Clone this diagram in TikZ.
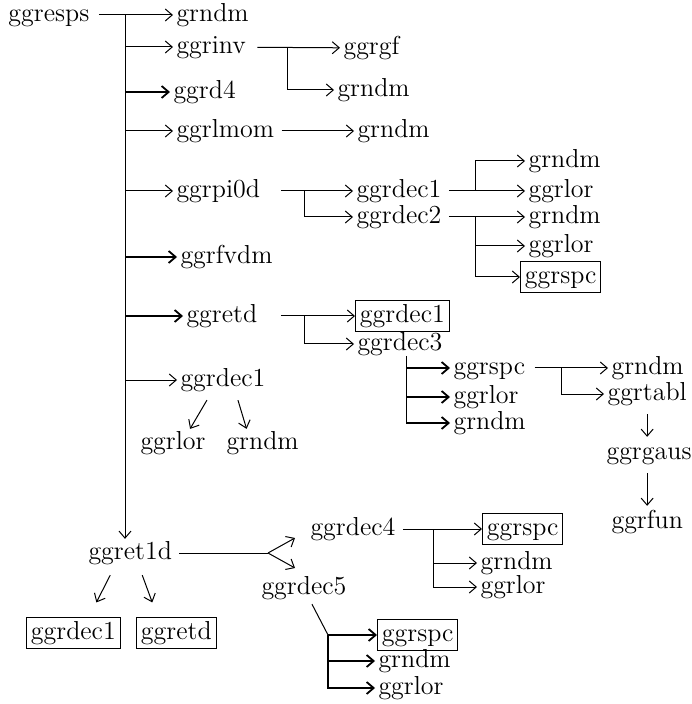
\documentclass[tikz,border=0pt]{standalone}
\usepackage{tikz}
\usetikzlibrary{arrows.meta}

\begin{document}
\begin{tikzpicture}[x=0.5pt,y=-0.5pt,>={Straight Barb[length=3.5pt,width=6pt]},line width=0.5pt,
		lbl/.style={anchor=west,inner sep=1.5pt,text height=1.5ex,text depth=.4ex},
		boxed/.style={lbl,draw,inner sep=2.2pt,line width=0.5pt},
		heavy/.style={line width=0.9pt}]
		\fontsize{13}{15}\selectfont
		\useasboundingbox (0,0) rectangle (691,704);
		\node [lbl] (resps) at (5,15) {ggresps};
		\node [lbl] (rndm1) at (173,15) {grndm};
		\node [lbl] (inv) at (173,47) {ggrinv};
		\node [lbl] (rgf) at (340,48) {ggrgf};
		\node [lbl] (rndm2) at (334,90) {grndm};
		\node [lbl] (rd4) at (170,92) {ggrd4};
		\node [lbl] (lmom) at (173,131) {ggrlmom};
		\node [lbl] (rndm3) at (354,131) {grndm};
		\node [lbl] (pi0d) at (173,191) {ggrpi0d};
		\node [lbl] (dec1a) at (353,191) {ggrdec1};
		\node [lbl] (dec2a) at (353,217) {ggrdec2};
		\node [lbl] (rndm4) at (525,161) {grndm};
		\node [lbl] (rlor1) at (525,191) {ggrlor};
		\node [lbl] (rndm5) at (525,217) {grndm};
		\node [lbl] (rlor2) at (525,246) {ggrlor};
		\node [boxed] (rspc1) at (520,277) {ggrspc};
		\node [lbl] (fvdm) at (177,257) {ggrfvdm};
		\node [lbl] (retd) at (183,316) {ggretd};
		\node [boxed] (dec1box) at (355,316) {ggrdec1};
		\node [lbl] (dec3) at (354,344) {ggrdec3};
		\node [lbl] (rspc2) at (450,368) {ggrspc};
		\node [lbl] (rlor3) at (450,397) {ggrlor};
		\node [lbl] (rndm6) at (450,423) {grndm};
		\node [lbl] (rndm7) at (608,368) {grndm};
		\node [lbl] (rtabl) at (604,394) {ggrtabl};
		\node [lbl] (rgaus) at (603,453) {ggrgaus};
		\node [lbl] (rfun) at (608,522) {ggrfun};
		\node [lbl] (dec1b) at (177,380) {ggrdec1};
		\node [lbl] (rlor4) at (137,443) {ggrlor};
		\node [lbl] (rndm8) at (223,443) {grndm};
		\node [lbl] (ret1d) at (85,553) {ggret1d};
		\node [boxed] (dec1c) at (26,633) {ggrdec1};
		\node [boxed] (retd2) at (136,633) {ggretd};
		\node [lbl] (dec4) at (307,529) {ggrdec4};
		\node [boxed] (rspc3) at (482,529) {ggrspc};
		\node [lbl] (rndm9) at (477,563) {grndm};
		\node [lbl] (rlor5) at (477,587) {ggrlor};
		\node [lbl] (dec5) at (258,588) {ggrdec5};
		\node [boxed] (rspc4) at (377,635) {ggrspc};
		\node [lbl] (rndm10) at (375,661) {grndm};
		\node [lbl] (rlor6) at (375,688) {ggrlor};
		\coordinate (t0) at (125,15);
		\coordinate (t1) at (125,47);
		\coordinate (t2) at (125,92);
		\coordinate (t3) at (125,131);
		\coordinate (t4) at (125,191);
		\coordinate (t5) at (125,257);
		\coordinate (t6) at (125,316);
		\coordinate (t7) at (125,380);
		\coordinate (j1) at (287,48);
		\coordinate (j2) at (304,191);
		\coordinate (j3) at (475,191);
		\coordinate (j4) at (475,217);
		\coordinate (j5) at (304,316);
		\coordinate (k0) at (406,356);
		\coordinate (j7) at (561,368);
		\coordinate (sp) at (268,553);
		\coordinate (a4) at (295,538);
		\coordinate (a5) at (295,568);
		\coordinate (j8) at (433,529);
		\coordinate (k1) at (328,635);
		\draw [shorten <=3pt] (resps) -- (t0);
		\draw [->] (t0) -- (rndm1);
		\draw [->] (t0) -- (t0 |- ret1d.north);
		\draw [->] (t1) -- (inv);
		\draw [->,heavy] (t2) -- (rd4);
		\draw [->] (t3) -- (lmom);
		\draw [->] (t4) -- (pi0d);
		\draw [->,heavy] (t5) -- (fvdm);
		\draw [->,heavy] (t6) -- (retd);
		\draw [->] (t7) -- (dec1b);
		\draw [->,shorten <=4pt] (inv) -- (rgf);
		\draw [->] (j1) |- (rndm2);
		\draw [->,shorten <=2pt] (lmom) -- (rndm3);
		\draw [->,shorten <=9pt] (pi0d) -- (dec1a);
		\draw [->] (j2) |- (dec2a);
		\draw [->,shorten <=2pt] (dec1a) -- (rlor1);
		\draw [->] (j3) |- (rndm4);
		\draw [->,shorten <=2pt] (dec2a) -- (rndm5);
		\draw [->] (j4) |- (rlor2);
		\draw [->] (j4) |- (rspc1);
		\draw [->,shorten <=10pt] (retd) -- (dec1box);
		\draw [->] (j5) |- (dec3);
		\draw (k0) -- (k0 |- rndm6);
		\draw [->,heavy] (k0 |- rspc2) -- (rspc2);
		\draw [->,heavy] (k0 |- rlor3) -- (rlor3);
		\draw [->,heavy] (k0 |- rndm6) -- (rndm6);
		\draw [->,shorten <=3pt] (rspc2) -- (rndm7);
		\draw [->] (j7) |- (rtabl);
		\draw [->,shorten <=3pt,shorten >=1pt] (rtabl.south) -- (rtabl.south |- rgaus.north);
		\draw [->,shorten <=3pt,shorten >=1pt] (rtabl.south |- rgaus.south) -- (rtabl.south |- rfun.north);
		\draw [->] ([xshift=-8pt,yshift=-3pt]dec1b.south) -- ([xshift=8.5pt]rlor4.north);
		\draw [->] ([xshift=7.5pt,yshift=-3pt]dec1b.south) -- ([xshift=-8pt]rndm8.north);
		\draw [shorten <=2pt] (ret1d) -- (sp);
		\draw [->] (sp) -- (a4);
		\draw [->] (sp) -- (a5);
		\draw [->] ([xshift=-10pt,yshift=-4pt]ret1d.south) -- ([xshift=11.5pt,yshift=7.5pt]dec1c.north);
		\draw [->] ([xshift=6pt,yshift=-4pt]ret1d.south) -- ([xshift=-12pt,yshift=7.5pt]retd2.north);
		\draw [->,shorten <=2pt] (dec4) -- (rspc3);
		\draw [heavy] (j8) -- (rspc3 -| j8);
		\draw [->] (j8) |- (rndm9);
		\draw [->] (j8) |- (rlor5);
		\draw ([xshift=4pt,yshift=-1pt]dec5.south) -- (k1);
		\draw [->,heavy] (k1) -- (rspc4);
		\draw [->,heavy] (k1) |- (rndm10);
		\draw [->,heavy] (k1) |- (rlor6);
	\end{tikzpicture}
\end{document}
